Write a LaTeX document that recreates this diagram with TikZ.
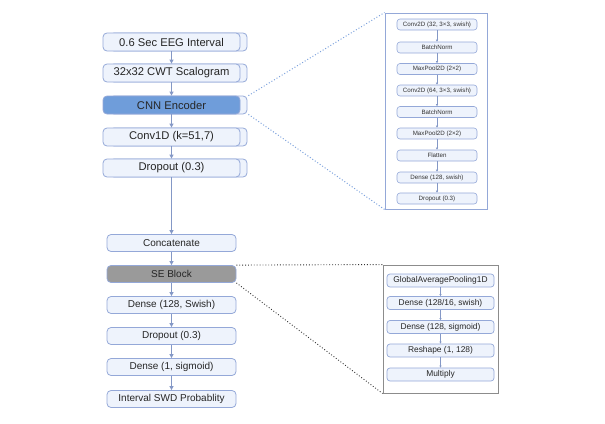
\documentclass[tikz,border=0pt]{standalone}
\usepackage{fontspec}
\setmainfont{Liberation Sans}
\usetikzlibrary{arrows.meta}
\definecolor{bfill}{HTML}{EEF3FC}
\definecolor{bdraw}{HTML}{94A8D8}
\definecolor{cnnfill}{HTML}{6F9DDA}
\definecolor{segray}{HTML}{9A9A9A}
\definecolor{arr}{HTML}{8498C6}
\definecolor{dotblue}{HTML}{7FA3DD}
\begin{document}
\begin{tikzpicture}[x=1pt,y=-1pt,
  box/.style={draw=bdraw,fill=bfill,rounded corners=4pt,line width=0.8pt,minimum height=18pt,minimum width=137pt,inner sep=0pt,text=black!85,font=\fontsize{11.2}{13}\selectfont},
  bbox/.style={box,minimum width=129pt,minimum height=17pt,font=\fontsize{10}{12}\selectfont},
  sbox/.style={draw=bdraw,fill=bfill,rounded corners=3pt,line width=0.6pt,minimum height=11pt,minimum width=80pt,inner sep=0pt,text=black!80,font=\fontsize{6.2}{7}\selectfont},
  rbox/.style={draw=bdraw,fill=bfill,rounded corners=3pt,line width=0.7pt,minimum height=13pt,minimum width=107pt,inner sep=0pt,text=black!85,font=\fontsize{8.4}{10}\selectfont},
  ar/.style={draw=arr,line width=0.8pt,-{Triangle[width=4pt,length=4pt]}},
  sar/.style={draw=arr,line width=0.4pt,-{Triangle[width=2pt,length=2pt]}},
  dotb/.style={draw=dotblue,dotted,line width=1pt},
  dotk/.style={draw=black!80,dotted,line width=0.9pt}]
\useasboundingbox (0,0) rectangle (605,423);
% shadows for top column
\foreach \y in {42,73,105,137,168}{
  \draw[draw=bdraw,fill=bfill,rounded corners=4pt,line width=0.8pt] (110,\y-9) rectangle (247,\y+9);
}
\node[box] (n1) at (171.5,42) {0.6 Sec EEG Interval};
\node[box] (n2) at (171.5,73) {32x32 CWT Scalogram};
\node[box,fill=cnnfill] (n3) at (171.5,105) {CNN Encoder};
\node[box] (n4) at (171.5,137) {Conv1D (k=51,7)};
\node[box] (n5) at (171.5,168) {Dropout (0.3)};
\draw[ar] (n1) -- (n2);
\draw[ar] (n2) -- (n3);
\draw[ar] (n3) -- (n4);
\draw[ar] (n4) -- (n5);
% bottom column
\node[bbox] (m1) at (171.5,243) {Concatenate};
\node[bbox,fill=segray] (m2) at (171.5,274) {SE Block};
\node[bbox] (m3) at (171.5,305) {Dense (128, Swish)};
\node[bbox] (m4) at (171.5,336) {Dropout (0.3)};
\node[bbox] (m5) at (171.5,367) {Dense (1, sigmoid)};
\node[bbox] (m6) at (171.5,399) {Interval SWD Probablity};
\draw[ar] (n5) -- (m1);
\draw[ar] (m1) -- (m2);
\draw[ar] (m2) -- (m3);
\draw[ar] (m3) -- (m4);
\draw[ar] (m4) -- (m5);
\draw[ar] (m5) -- (m6);
% CNN detail
\node[draw=bdraw,line width=0.9pt,minimum width=102pt,minimum height=196pt,inner sep=0pt] (cnnbox) at (436,111) {};
\node[sbox] (c1) at (437,24.5) {Conv2D (32, 3×3, swish)};
\node[sbox] (c2) at (437,47.5) {BatchNorm};
\node[sbox] (c3) at (437,69) {MaxPool2D (2×2)};
\node[sbox] (c4) at (437,90.5) {Conv2D (64, 3×3, swish)};
\node[sbox] (c5) at (437,112) {BatchNorm};
\node[sbox] (c6) at (437,133.5) {MaxPool2D (2×2)};
\node[sbox] (c7) at (437,155.5) {Flatten};
\node[sbox] (c8) at (437,177.5) {Dense (128, swish)};
\node[sbox] (c9) at (437,198.5) {Dropout (0.3)};
\foreach \a/\b in {c1/c2,c2/c3,c3/c4,c4/c5,c5/c6,c6/c7,c7/c8,c8/c9}{\draw[sar] (\a) -- (\b);}
\draw[dotb] (n3.north east) ++(8,0) -- (cnnbox.north west);
\draw[dotb] (n3.south east) ++(8,0) -- (cnnbox.south west);
% SE detail
\node[draw=black!45,line width=0.9pt,minimum width=115pt,minimum height=128pt,inner sep=0pt] (sebox) at (440.5,329) {};
\node[rbox] (s1) at (440.5,280.5) {GlobalAveragePooling1D};
\node[rbox] (s2) at (440.5,303) {Dense (128/16, swish)};
\node[rbox] (s3) at (440.5,327) {Dense (128, sigmoid)};
\node[rbox] (s4) at (440.5,350.5) {Reshape (1, 128)};
\node[rbox] (s5) at (440.5,374.5) {Multiply};
\foreach \a/\b in {s1/s2,s2/s3,s3/s4,s4/s5}{\draw[sar] (\a) -- (\b);}
\draw[dotk] (m2.north east) -- (sebox.north west);
\draw[dotk] (m2.south east) -- (sebox.south west);
\end{tikzpicture}
\end{document}
